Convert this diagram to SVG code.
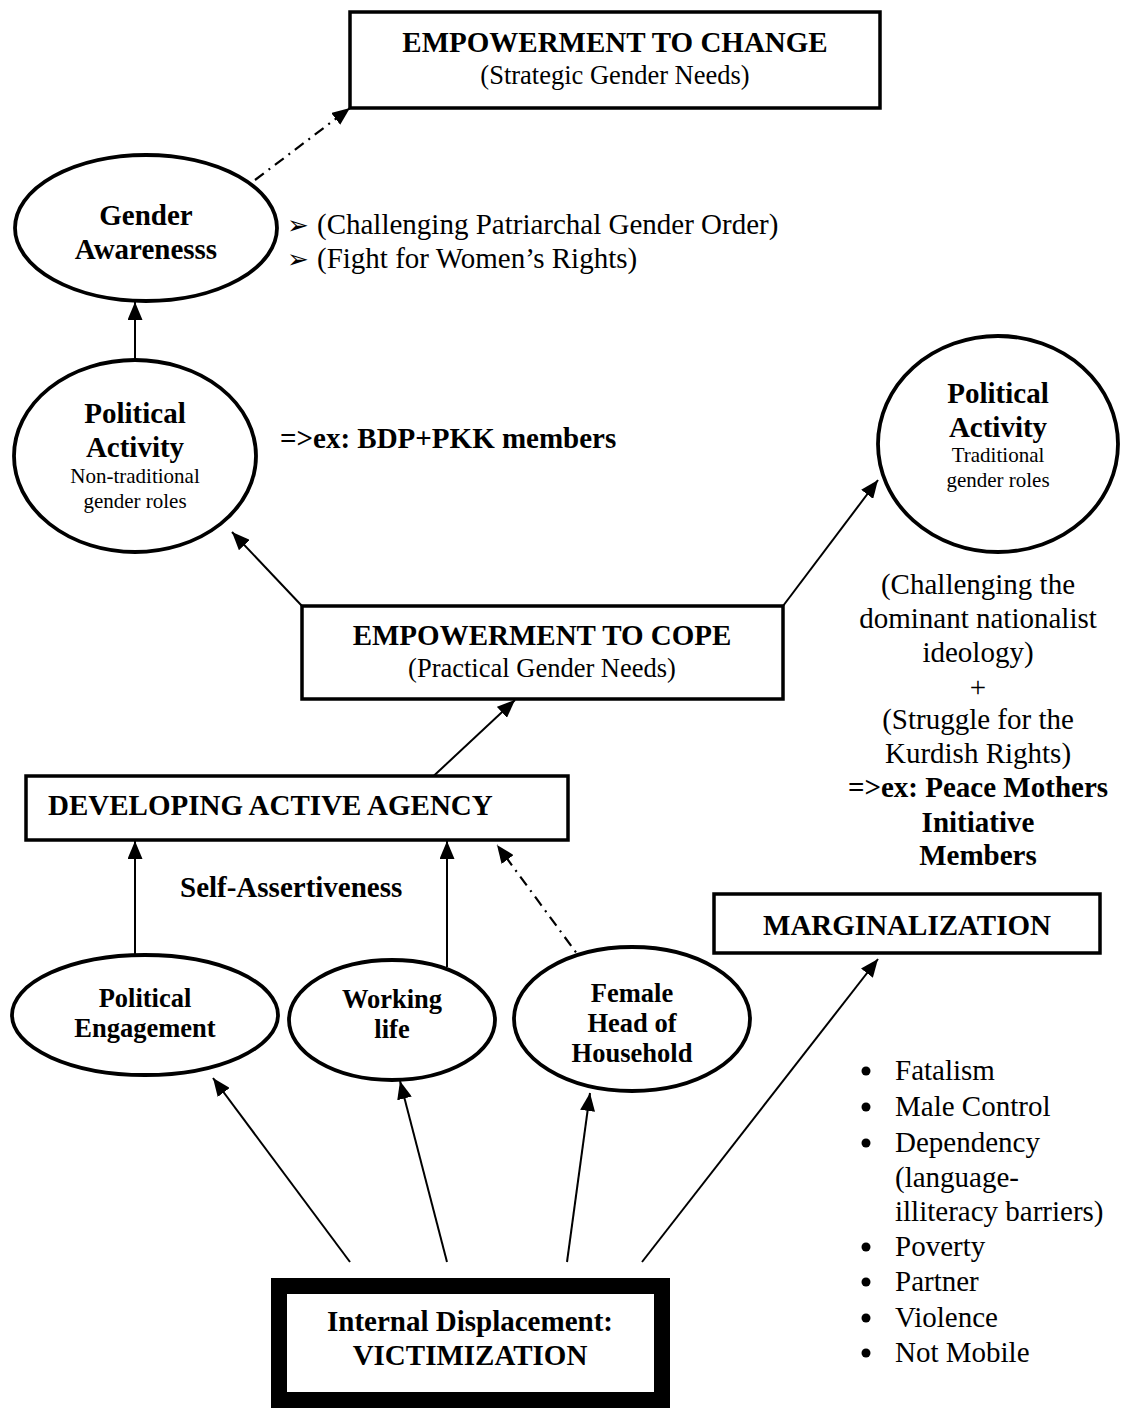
<svg xmlns="http://www.w3.org/2000/svg" width="1123" height="1409" viewBox="0 0 1123 1409">
<defs>
<style>
text{font-family:"Liberation Serif","Times New Roman",serif;fill:#000}
.b{font-weight:bold;font-size:29px}
.bs{font-weight:bold;font-size:26.5px}
.r{font-size:29px}
.rs{font-size:26.5px}
.sm{font-size:21px}
.c{text-anchor:middle}
.mk{font-family:"DejaVu Sans",sans-serif;font-size:26px}
.node{fill:#fff;stroke:#000;stroke-width:3.8}
.box{fill:#fff;stroke:#000;stroke-width:3.5}
.ln{stroke:#000;stroke-width:2;fill:none}
.dd{stroke:#000;stroke-width:2.2;fill:none;stroke-dasharray:11 6 2 6}
</style>
<marker id="ah" markerUnits="userSpaceOnUse" markerWidth="19" markerHeight="15" refX="18" refY="7.5" orient="auto">
<path d="M0,0 L18,7.5 L0,15 Z" fill="#000"/>
</marker>
</defs>
<rect width="1123" height="1409" fill="#fff"/>

<g id="connectors">
<line class="dd" x1="255" y1="180" x2="350" y2="108" marker-end="url(#ah)"/>
<line class="ln" x1="135" y1="360" x2="135" y2="302" marker-end="url(#ah)"/>
<line class="ln" x1="302" y1="606" x2="232" y2="532" marker-end="url(#ah)"/>
<line class="ln" x1="783" y1="606" x2="878" y2="480" marker-end="url(#ah)"/>
<line class="ln" x1="425" y1="784" x2="515" y2="700" marker-end="url(#ah)"/>
<line class="ln" x1="135" y1="956" x2="135" y2="841" marker-end="url(#ah)"/>
<line class="ln" x1="447" y1="967" x2="447" y2="841" marker-end="url(#ah)"/>
<line class="dd" x1="586" y1="966" x2="497" y2="845" marker-end="url(#ah)"/>
<line class="ln" x1="350" y1="1262" x2="213" y2="1078" marker-end="url(#ah)"/>
<line class="ln" x1="447" y1="1262" x2="400" y2="1081" marker-end="url(#ah)"/>
<line class="ln" x1="567" y1="1262" x2="590" y2="1093" marker-end="url(#ah)"/>
<line class="ln" x1="642" y1="1262" x2="878" y2="959" marker-end="url(#ah)"/>
</g>

<g id="empowerment-change">
<rect class="box" x="350" y="12" width="530" height="96"/>
<text class="b c" x="615" y="52">EMPOWERMENT TO CHANGE</text>
<text class="rs c" x="615" y="84">(Strategic Gender Needs)</text>
</g>

<g id="gender-awareness">
<ellipse class="node" cx="146" cy="228" rx="131" ry="73"/>
<text class="b c" x="146" y="225">Gender</text>
<text class="b c" x="146" y="259">Awarenesss</text>
</g>

<g id="gender-notes">
<text class="mk" x="287" y="234">➢</text>
<text class="r" x="317" y="234">(Challenging Patriarchal Gender Order)</text>
<text class="mk" x="287" y="268">➢</text>
<text class="r" x="317" y="268">(Fight for Women’s Rights)</text>
</g>

<g id="political-activity-nontraditional">
<ellipse class="node" cx="135" cy="456" rx="121" ry="96"/>
<text class="b c" x="135" y="423">Political</text>
<text class="b c" x="135" y="457">Activity</text>
<text class="sm c" x="135" y="483">Non-traditional</text>
<text class="sm c" x="135" y="508">gender roles</text>
</g>

<text class="b" x="280" y="448">=&gt;ex: BDP+PKK members</text>

<g id="political-activity-traditional">
<ellipse class="node" cx="998" cy="444" rx="120" ry="108"/>
<text class="b c" x="998" y="403">Political</text>
<text class="b c" x="998" y="437">Activity</text>
<text class="sm c" x="998" y="462">Traditional</text>
<text class="sm c" x="998" y="487">gender roles</text>
</g>

<g id="traditional-notes">
<text class="r c" x="978" y="594">(Challenging the</text>
<text class="r c" x="978" y="628">dominant nationalist</text>
<text class="r c" x="978" y="662">ideology)</text>
<text class="r c" x="978" y="697">+</text>
<text class="r c" x="978" y="729">(Struggle for the</text>
<text class="r c" x="978" y="763">Kurdish Rights)</text>
<text class="b c" x="978" y="797">=&gt;ex: Peace Mothers</text>
<text class="b c" x="978" y="832">Initiative</text>
<text class="b c" x="978" y="865">Members</text>
</g>

<g id="empowerment-cope">
<rect class="box" x="302" y="606" width="481" height="93"/>
<text class="b c" x="542" y="645">EMPOWERMENT TO COPE</text>
<text class="rs c" x="542" y="677">(Practical Gender Needs)</text>
</g>

<g id="developing-agency">
<rect class="box" x="26" y="776" width="542" height="64"/>
<text class="b" x="48" y="815">DEVELOPING ACTIVE AGENCY</text>
</g>

<text class="b" x="180" y="897">Self-Assertiveness</text>

<g id="marginalization">
<rect class="box" x="714" y="894" width="386" height="59"/>
<text class="b c" x="907" y="935">MARGINALIZATION</text>
</g>

<g id="political-engagement">
<ellipse class="node" cx="145" cy="1015" rx="133" ry="60"/>
<text class="bs c" x="145" y="1007">Political</text>
<text class="bs c" x="145" y="1037">Engagement</text>
</g>

<g id="working-life">
<ellipse class="node" cx="392" cy="1020" rx="103" ry="60"/>
<text class="bs c" x="392" y="1008">Working</text>
<text class="bs c" x="392" y="1038">life</text>
</g>

<g id="female-head">
<ellipse class="node" cx="632" cy="1019" rx="118" ry="72"/>
<text class="bs c" x="632" y="1002">Female</text>
<text class="bs c" x="632" y="1032">Head of</text>
<text class="bs c" x="632" y="1062">Household</text>
</g>

<g id="marginalization-list">
<circle cx="866" cy="1071" r="4.5"/>
<text class="r" x="895" y="1080">Fatalism</text>
<circle cx="866" cy="1107" r="4.5"/>
<text class="r" x="895" y="1116">Male Control</text>
<circle cx="866" cy="1143" r="4.5"/>
<text class="r" x="895" y="1152">Dependency</text>
<text class="r" x="895" y="1187">(language-</text>
<text class="r" x="895" y="1221">illiteracy barriers)</text>
<circle cx="866" cy="1247" r="4.5"/>
<text class="r" x="895" y="1256">Poverty</text>
<circle cx="866" cy="1282" r="4.5"/>
<text class="r" x="895" y="1291">Partner</text>
<circle cx="866" cy="1318" r="4.5"/>
<text class="r" x="895" y="1327">Violence</text>
<circle cx="866" cy="1353" r="4.5"/>
<text class="r" x="895" y="1362">Not Mobile</text>
</g>

<g id="victimization">
<rect x="279" y="1286" width="383" height="114" fill="#fff" stroke="#000" stroke-width="16"/>
<text class="b c" x="470" y="1331">Internal Displacement:</text>
<text class="b c" x="470" y="1365">VICTIMIZATION</text>
</g>
</svg>
